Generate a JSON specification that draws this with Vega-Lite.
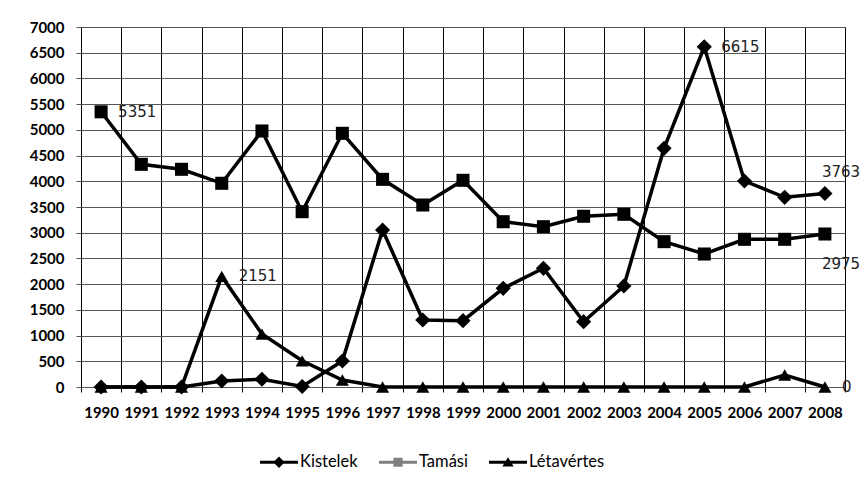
{
  "$schema": "https://vega.github.io/schema/vega-lite/v6.json",
  "width": 764,
  "height": 360,
  "autosize": {"type": "none"},
  "padding": {"left": 81, "top": 27, "right": 20, "bottom": 99},
  "background": "white",
  "config": {"view": {"stroke": "black", "strokeWidth": 1}, "font": "Lato"},
  "datasets": {
    "main": [
      {"year": 1990, "series": "Kistelek", "value": 0},
      {"year": 1991, "series": "Kistelek", "value": 0},
      {"year": 1992, "series": "Kistelek", "value": 0},
      {"year": 1993, "series": "Kistelek", "value": 117},
      {"year": 1994, "series": "Kistelek", "value": 150},
      {"year": 1995, "series": "Kistelek", "value": 10},
      {"year": 1996, "series": "Kistelek", "value": 505},
      {"year": 1997, "series": "Kistelek", "value": 3053},
      {"year": 1998, "series": "Kistelek", "value": 1303},
      {"year": 1999, "series": "Kistelek", "value": 1290},
      {"year": 2000, "series": "Kistelek", "value": 1919},
      {"year": 2001, "series": "Kistelek", "value": 2308},
      {"year": 2002, "series": "Kistelek", "value": 1270},
      {"year": 2003, "series": "Kistelek", "value": 1964},
      {"year": 2004, "series": "Kistelek", "value": 4641},
      {"year": 2005, "series": "Kistelek", "value": 6615},
      {"year": 2006, "series": "Kistelek", "value": 4005},
      {"year": 2007, "series": "Kistelek", "value": 3688},
      {"year": 2008, "series": "Kistelek", "value": 3763},
      {"year": 1990, "series": "Tamási", "value": 5351},
      {"year": 1991, "series": "Tamási", "value": 4330},
      {"year": 1992, "series": "Tamási", "value": 4233},
      {"year": 1993, "series": "Tamási", "value": 3961},
      {"year": 1994, "series": "Tamási", "value": 4978},
      {"year": 1995, "series": "Tamási", "value": 3409},
      {"year": 1996, "series": "Tamási", "value": 4933},
      {"year": 1997, "series": "Tamási", "value": 4038},
      {"year": 1998, "series": "Tamási", "value": 3539},
      {"year": 1999, "series": "Tamási", "value": 4019},
      {"year": 2000, "series": "Tamási", "value": 3214},
      {"year": 2001, "series": "Tamási", "value": 3117},
      {"year": 2002, "series": "Tamási", "value": 3320},
      {"year": 2003, "series": "Tamási", "value": 3358},
      {"year": 2004, "series": "Tamási", "value": 2826},
      {"year": 2005, "series": "Tamási", "value": 2586},
      {"year": 2006, "series": "Tamási", "value": 2872},
      {"year": 2007, "series": "Tamási", "value": 2872},
      {"year": 2008, "series": "Tamási", "value": 2975},
      {"year": 1990, "series": "Létavértes", "value": 0},
      {"year": 1991, "series": "Létavértes", "value": 0},
      {"year": 1992, "series": "Létavértes", "value": 0},
      {"year": 1993, "series": "Létavértes", "value": 2151},
      {"year": 1994, "series": "Létavértes", "value": 1030},
      {"year": 1995, "series": "Létavértes", "value": 510},
      {"year": 1996, "series": "Létavértes", "value": 136},
      {"year": 1997, "series": "Létavértes", "value": 0},
      {"year": 1998, "series": "Létavértes", "value": 0},
      {"year": 1999, "series": "Létavértes", "value": 0},
      {"year": 2000, "series": "Létavértes", "value": 0},
      {"year": 2001, "series": "Létavértes", "value": 0},
      {"year": 2002, "series": "Létavértes", "value": 0},
      {"year": 2003, "series": "Létavértes", "value": 0},
      {"year": 2004, "series": "Létavértes", "value": 0},
      {"year": 2005, "series": "Létavértes", "value": 0},
      {"year": 2006, "series": "Létavértes", "value": 0},
      {"year": 2007, "series": "Létavértes", "value": 233},
      {"year": 2008, "series": "Létavértes", "value": 0}
    ]
  },
  "data": {"name": "main"},
  "encoding": {
    "x": {
      "field": "year",
      "type": "ordinal",
      "scale": {"type": "band", "paddingInner": 0, "paddingOuter": 0},
      "axis": {
        "title": null,
        "grid": true,
        "gridColor": "black",
        "gridOpacity": 1,
        "gridWidth": 1,
        "tickBand": "extent",
        "tickColor": "black",
        "tickSize": 5,
        "domain": false,
        "labelAngle": 0,
        "labelFont": "Lato",
        "labelFontWeight": "bold",
        "labelFontSize": 15,
        "labelColor": "black",
        "labelPadding": 13
      }
    },
    "y": {
      "field": "value",
      "type": "quantitative",
      "scale": {"domain": [0, 7000], "nice": false},
      "axis": {
        "title": null,
        "format": "d",
        "values": [0, 500, 1000, 1500, 2000, 2500, 3000, 3500, 4000, 4500, 5000, 5500, 6000, 6500, 7000],
        "grid": true,
        "gridColor": "#555555",
        "gridOpacity": 1,
        "tickColor": "#555555",
        "tickSize": 5,
        "domain": false,
        "labelFont": "Lato",
        "labelFontWeight": "bold",
        "labelFontSize": 15,
        "labelColor": "black",
        "labelPadding": 12
      }
    }
  },
  "layer": [
    {
      "mark": {"type": "line", "color": "black", "strokeWidth": 3.5},
      "encoding": {"detail": {"field": "series"}}
    },
    {
      "transform": [{"filter": "datum.series=='Kistelek'"}],
      "mark": {"type": "point", "filled": true, "color": "black", "opacity": 1, "shape": "diamond", "size": 230}
    },
    {
      "transform": [{"filter": "datum.series=='Tamási'"}],
      "mark": {"type": "point", "filled": true, "color": "black", "opacity": 1, "shape": "square", "size": 170}
    },
    {
      "transform": [{"filter": "datum.series=='Létavértes'"}],
      "mark": {"type": "point", "filled": true, "color": "black", "opacity": 1, "shape": "triangle-up", "size": 170}
    },
    {
      "mark": {"type": "point", "filled": true, "opacity": 0},
      "encoding": {
        "color": {
          "field": "series",
          "scale": {"domain": ["Kistelek", "Tamási", "Létavértes"], "range": ["black", "#7f7f7f", "black"]},
          "legend": {
            "orient": "none",
            "legendX": 179,
            "legendY": 416,
            "direction": "horizontal",
            "title": null,
            "symbolSize": 1444,
            "symbolOpacity": 1,
            "symbolStrokeWidth": 0,
            "labelFont": "Lato",
            "labelFontSize": 16.5,
            "labelColor": "black",
            "labelOffset": 2,
            "columnPadding": 21
          }
        },
        "shape": {
          "field": "series",
          "scale": {
            "domain": ["Kistelek", "Tamási", "Létavértes"],
            "range": [
              "M-1,-0.08L1,-0.08L1,0.08L-1,0.08ZM0,-0.3L0.3,0L0,0.3L-0.3,0Z",
              "M-1,-0.08L1,-0.08L1,0.08L-1,0.08ZM-0.24,-0.24L0.24,-0.24L0.24,0.24L-0.24,0.24Z",
              "M-1,-0.08L1,-0.08L1,0.08L-1,0.08ZM0,-0.26L0.3,0.22L-0.3,0.22Z"
            ]
          },
          "legend": {
            "orient": "none",
            "legendX": 179,
            "legendY": 416,
            "direction": "horizontal",
            "title": null,
            "symbolSize": 1444,
            "symbolOpacity": 1,
            "symbolStrokeWidth": 0,
            "labelFont": "Lato",
            "labelFontSize": 16.5,
            "labelColor": "black",
            "labelOffset": 2,
            "columnPadding": 21
          }
        }
      }
    },
    {
      "transform": [{"filter": "(datum.series=='Tamási'&&datum.year==1990)||(datum.series=='Létavértes'&&(datum.year==1993||datum.year==2008))||(datum.series=='Kistelek'&&datum.year==2005)"}],
      "mark": {"type": "text", "font": "DejaVu Sans", "fontSize": 15, "color": "#222222", "align": "left", "baseline": "middle", "dx": 17},
      "encoding": {"text": {"field": "value", "type": "quantitative", "format": "d"}}
    },
    {
      "transform": [{"filter": "datum.series=='Kistelek'&&datum.year==2008"}],
      "mark": {"type": "text", "font": "DejaVu Sans", "fontSize": 15, "color": "#222222", "align": "left", "baseline": "middle", "dx": -3, "dy": -21},
      "encoding": {"text": {"field": "value", "type": "quantitative", "format": "d"}}
    },
    {
      "transform": [{"filter": "datum.series=='Tamási'&&datum.year==2008"}],
      "mark": {"type": "text", "font": "DejaVu Sans", "fontSize": 15, "color": "#222222", "align": "left", "baseline": "middle", "dx": -3, "dy": 30},
      "encoding": {"text": {"field": "value", "type": "quantitative", "format": "d"}}
    }
  ]
}
